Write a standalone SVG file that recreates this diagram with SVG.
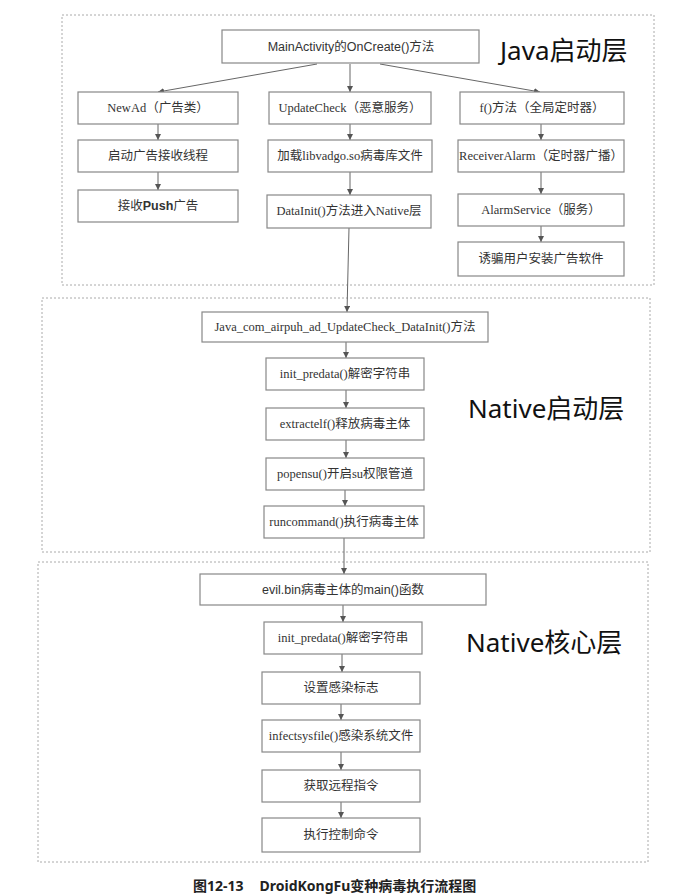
<svg xmlns="http://www.w3.org/2000/svg" width="694" height="896" viewBox="0 0 694 896">
<defs>
<marker id="ah" markerWidth="8" markerHeight="8" refX="6" refY="3" orient="auto" markerUnits="userSpaceOnUse">
<path d="M0,0 L6,3 L0,6 z" fill="#555"/>
</marker>
<style>
.layer{fill:none;stroke:#aaa;stroke-width:1;stroke-dasharray:2,2}
.box{fill:#fff;stroke:#888;stroke-width:1.2}
.t{font-family:"Liberation Serif","Noto Sans CJK SC",serif;font-size:12.5px;fill:#333;text-anchor:middle;dominant-baseline:central}
.s{font-family:"Liberation Sans","Noto Sans CJK SC",sans-serif;font-size:12.5px;fill:#333;text-anchor:middle;dominant-baseline:central}
.big{font-family:"Noto Sans","Noto Sans CJK SC",sans-serif;font-size:26px;fill:#111}
.c{fill:none;stroke:#666;stroke-width:1;marker-end:url(#ah)}
.cap{font-family:"Noto Sans","Noto Sans CJK SC",sans-serif;font-size:14px;font-weight:bold;fill:#222}
</style>
</defs>
<rect width="694" height="896" fill="#fff"/>
<g id="layers">
<rect class="layer" x="62" y="15" width="592" height="270"/>
<rect class="layer" x="42" y="298" width="608" height="254"/>
<rect class="layer" x="38" y="562" width="610" height="300"/>
<text class="big" x="500" y="60">Java启动层</text>
<text class="big" x="468" y="418">Native启动层</text>
<text class="big" x="466" y="652">Native核心层</text>
</g>
<g id="connectors">
<line class="c" x1="317" y1="64" x2="158" y2="92"/>
<line class="c" x1="350" y1="64" x2="350" y2="92"/>
<line class="c" x1="380" y1="64" x2="540" y2="92"/>
<line class="c" x1="158" y1="124" x2="158" y2="140"/>
<line class="c" x1="158" y1="172" x2="158" y2="190"/>
<line class="c" x1="350" y1="124" x2="350" y2="140"/>
<line class="c" x1="350" y1="172" x2="350" y2="195"/>
<line class="c" x1="349" y1="228" x2="347" y2="312"/>
<line class="c" x1="541" y1="124" x2="541" y2="140"/>
<line class="c" x1="541" y1="172" x2="541" y2="194"/>
<line class="c" x1="541" y1="226" x2="541" y2="242"/>
<line class="c" x1="346" y1="342" x2="346" y2="358"/>
<line class="c" x1="346" y1="390" x2="346" y2="408"/>
<line class="c" x1="346" y1="440" x2="346" y2="458"/>
<line class="c" x1="345" y1="490" x2="345" y2="506"/>
<line class="c" x1="344" y1="538" x2="344" y2="574"/>
<line class="c" x1="343" y1="605" x2="343" y2="622"/>
<line class="c" x1="342" y1="654" x2="342" y2="672"/>
<line class="c" x1="341" y1="704" x2="341" y2="720"/>
<line class="c" x1="341" y1="752" x2="341" y2="770"/>
<line class="c" x1="341" y1="802" x2="341" y2="818"/>
</g>
<g id="n_main"><rect class="box" x="222" y="30" width="257" height="33"/><text class="s" x="351" y="47">MainActivity的OnCreate()方法</text></g>
<g id="n_newad"><rect class="box" x="78" y="92" width="160" height="32"/><text class="t" x="158" y="108">NewAd（广告类）</text></g>
<g id="n_update"><rect class="box" x="269" y="92" width="162" height="32"/><text class="t" x="350" y="108">UpdateCheck（恶意服务）</text></g>
<g id="n_f"><rect class="box" x="460" y="92" width="164" height="32"/><text class="t" x="542" y="108">f()方法（全局定时器）</text></g>
<g id="n_thread"><rect class="box" x="78" y="140" width="160" height="32"/><text class="t" x="158" y="156">启动广告接收线程</text></g>
<g id="n_load"><rect class="box" x="268" y="140" width="164" height="32"/><text class="t" x="350" y="156">加载libvadgo.so病毒库文件</text></g>
<g id="n_recv"><rect class="box" x="458" y="140" width="166" height="32"/><text class="t" x="541" y="156">ReceiverAlarm（定时器广播）</text></g>
<g id="n_push"><rect class="box" x="78" y="190" width="160" height="32"/><text class="t" x="158" y="206">接收<tspan font-family="Liberation Sans" font-weight="bold">Push</tspan>广告</text></g>
<g id="n_datainit"><rect class="box" x="267" y="195" width="164" height="33"/><text class="t" x="349" y="211">DataInit()方法进入Native层</text></g>
<g id="n_alarm"><rect class="box" x="458" y="194" width="166" height="32"/><text class="t" x="541" y="210">AlarmService（服务）</text></g>
<g id="n_lure"><rect class="box" x="458" y="242" width="166" height="34"/><text class="t" x="541" y="259">诱骗用户安装广告软件</text></g>
<g id="n_java"><rect class="box" x="202" y="312" width="286" height="30"/><text class="t" x="345" y="327">Java_com_airpuh_ad_UpdateCheck_DataInit()方法</text></g>
<g id="n_init1"><rect class="box" x="266" y="358" width="158" height="32"/><text class="t" x="345" y="374">init_predata()解密字符串</text></g>
<g id="n_extract"><rect class="box" x="266" y="408" width="158" height="32"/><text class="t" x="345" y="424">extractelf()释放病毒主体</text></g>
<g id="n_popen"><rect class="box" x="266" y="458" width="158" height="32"/><text class="t" x="345" y="474">popensu()开启su权限管道</text></g>
<g id="n_run"><rect class="box" x="264" y="506" width="160" height="32"/><text class="t" x="344" y="522">runcommand()执行病毒主体</text></g>
<g id="n_evil"><rect class="box" x="200" y="574" width="286" height="31"/><text class="s" x="343" y="590">evil.bin病毒主体的main()函数</text></g>
<g id="n_init2"><rect class="box" x="264" y="622" width="158" height="32"/><text class="t" x="343" y="638">init_predata()解密字符串</text></g>
<g id="n_flag"><rect class="box" x="262" y="672" width="158" height="32"/><text class="t" x="341" y="688">设置感染标志</text></g>
<g id="n_infect"><rect class="box" x="262" y="720" width="158" height="32"/><text class="t" x="341" y="736">infectsysfile()感染系统文件</text></g>
<g id="n_remote"><rect class="box" x="262" y="770" width="158" height="32"/><text class="t" x="341" y="786">获取远程指令</text></g>
<g id="n_exec"><rect class="box" x="262" y="818" width="158" height="34"/><text class="t" x="341" y="835">执行控制命令</text></g>
<text class="cap" x="193" y="891">图12-13<tspan dx="16">DroidKongFu变种病毒执行流程图</tspan></text>
</svg>
